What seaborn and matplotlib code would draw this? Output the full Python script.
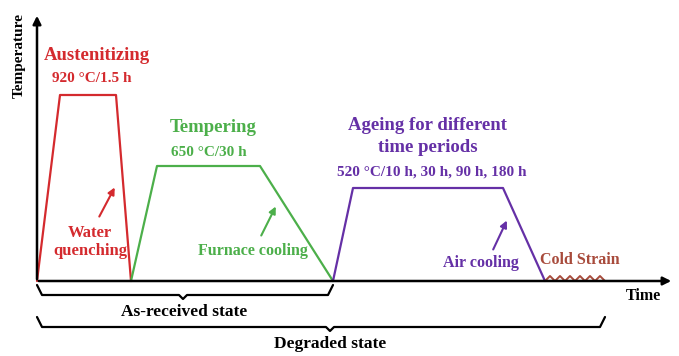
import matplotlib.pyplot as plt
import seaborn as sns

# schematic heat-treatment profiles (time units, temperature units)
aus_t = [0, 23, 79, 94]
aus_T = [0, 186, 186, 0]
temp_t = [94, 120, 223, 296]
temp_T = [0, 115, 115, 0]
age_t = [296, 316, 466, 508]
age_T = [0, 93, 93, 0]
cold_t = [508, 513, 518, 523, 528, 533, 538, 543, 548, 553, 558, 563, 568]
cold_T = [0, 5, 0, 5, 0, 5, 0, 5, 0, 5, 0, 5, 0]

RED = "#d42a2e"
GREEN = "#4caf4a"
PURPLE = "#6530a6"
BROWN = "#a84b3c"

sns.set_theme(style="white")
plt.rcParams['font.family'] = ['Liberation Serif', 'DejaVu Serif']
plt.rcParams['font.weight'] = 'bold'

fig = plt.figure(figsize=(6.79, 3.56), dpi=100)
ax = fig.add_axes([0, 0, 1, 1])
ax.set_xlim(-37, 642)
ax.set_ylim(-75, 281)
ax.axis("off")

sns.lineplot(x=aus_t, y=aus_T, sort=False, estimator=None, color=RED, lw=1.6, ax=ax)
sns.lineplot(x=temp_t, y=temp_T, sort=False, estimator=None, color=GREEN, lw=1.6, ax=ax)
sns.lineplot(x=age_t, y=age_T, sort=False, estimator=None, color=PURPLE, lw=1.6, ax=ax)
sns.lineplot(x=cold_t, y=cold_T, sort=False, estimator=None, color=BROWN, lw=1.4, ax=ax)

# axes with arrows
ax.annotate("", xy=(0, 268), xytext=(0, -1),
            arrowprops=dict(arrowstyle="-|>", color="black", lw=1.8, mutation_scale=12))
ax.annotate("", xy=(637, 0), xytext=(-1, 0),
            arrowprops=dict(arrowstyle="-|>", color="black", lw=1.8, mutation_scale=12))

ax.text(-18, 226, "Temperature", rotation=90, ha="center", va="center", fontsize=11, color="black")
ax.text(606, -15, "Time", ha="center", va="center", fontsize=11.5, color="black")

# stage labels
ax.text(60, 225, "Austenitizing", ha="center", va="center", fontsize=13.5, color=RED)
ax.text(55, 202, "920 °C/1.5 h", ha="center", va="center", fontsize=11, color=RED)
ax.text(176, 153, "Tempering", ha="center", va="center", fontsize=13.5, color=GREEN)
ax.text(172, 129, "650 °C/30 h", ha="center", va="center", fontsize=11, color=GREEN)
ax.text(391, 156, "Ageing for different", ha="center", va="center", fontsize=13.5, color=PURPLE)
ax.text(391, 134, "time periods", ha="center", va="center", fontsize=13.5, color=PURPLE)
ax.text(395, 109, "520 °C/10 h, 30 h, 90 h, 180 h", ha="center", va="center", fontsize=11, color=PURPLE)

# cooling notes
ax.text(53, 39, "Water\nquenching", ha="center", va="center", fontsize=12, color=RED, linespacing=1.15)
ax.annotate("", xy=(79, 96), xytext=(61, 62),
            arrowprops=dict(arrowstyle="-|>", color=RED, lw=1.5, mutation_scale=10))
ax.text(216, 30, "Furnace cooling", ha="center", va="center", fontsize=11.5, color=GREEN)
ax.annotate("", xy=(240, 77), xytext=(223, 43),
            arrowprops=dict(arrowstyle="-|>", color=GREEN, lw=1.5, mutation_scale=10))
ax.text(444, 18, "Air cooling", ha="center", va="center", fontsize=11.5, color=PURPLE)
ax.annotate("", xy=(471, 63), xytext=(455, 29),
            arrowprops=dict(arrowstyle="-|>", color=PURPLE, lw=1.5, mutation_scale=10))
ax.text(543, 21, "Cold Strain", ha="center", va="center", fontsize=11.5, color=BROWN)

# braces
def brace(x0, x1, xm, y, ax):
    bx = [x0, x0 + 5, xm - 4, xm, xm + 4, x1 - 5, x1]
    by = [y, y - 10, y - 10, y - 14, y - 10, y - 10, y]
    ax.plot(bx, by, color="black", lw=1.6)

brace(0, 296, 146, -4, ax)
ax.text(147, -31, "As-received state", ha="center", va="center", fontsize=12.5, color="black")
brace(0, 568, 293, -36, ax)
ax.text(293, -63, "Degraded state", ha="center", va="center", fontsize=12.5, color="black")

plt.savefig("out.png", dpi=100)
plt.close()
